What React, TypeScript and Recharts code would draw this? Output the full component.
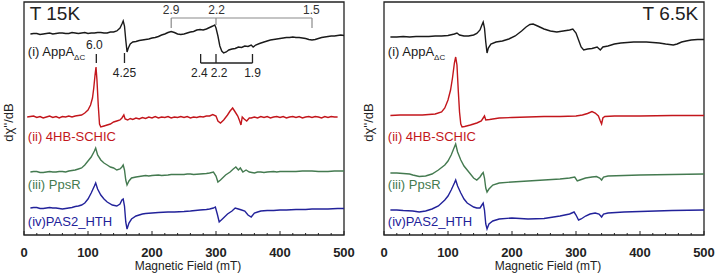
import {
  LineChart,
  Line,
  XAxis,
  YAxis,
  ReferenceArea,
  ReferenceLine,
  ReferenceDot,
} from 'recharts';

const FONT = '"Liberation Sans", Arial, sans-serif';

// x axis ticks (mT)
const fieldTicks = [
  0, 20, 40, 60, 80, 100, 120, 140, 160, 180, 200, 220, 240, 260, 280, 300, 320, 340, 360,
  380, 400, 420, 440, 460, 480, 500,
];
const majorTicks = [0, 100, 200, 300, 400, 500];

const traceNames = ['(i) AppA', '(ii) 4HB-SCHIC', '(iii) PpsR', '(iv)PAS2_HTH'];
const traceColors = ['#1a1a1a', '#c3161c', '#447a50', '#22229a'];

// vertical stacking offsets (a.u.)
const offsets15 = [201, 118, 63, 27];
const offsets65 = [198, 120, 62, 25];

// T 15K spectra, [field mT, dχ''/dB a.u.]
const appA15: [number, number][] = [
  [10, 0], [15, 0.5], [20, 0.5], [25, -0.5], [30, 0], [35, 0.5], [40, 1], [45, 0], [50, 0.5],
  [55, 1], [60, 1], [65, 0.5], [70, 0.5], [75, 1.5], [80, 1], [85, 0.5], [90, 1], [95, 1.5],
  [100, 0.5], [105, 1], [110, 1], [115, 1.5], [120, 1.5], [125, 1], [130, 1], [135, 2], [140, 2],
  [145, 3], [150, 6], [153, 10], [155, 13], [157, 8], [159, -6], [161, -18], [163, -14], [166, -10],
  [170, -8], [175, -7.5], [180, -6.5], [185, -6], [190, -5.5], [195, -5], [200, -4], [205, -3.5],
  [210, -2.5], [215, -1], [220, 0], [225, 1.5], [230, 2.5], [235, 1.5], [240, 0], [245, -0.5],
  [250, 0], [255, 1], [260, 2], [265, 2.5], [270, 4], [275, 4.5], [280, 4], [285, 5], [290, 6.5],
  [295, 8], [298, 9], [300, 6], [303, -2], [306, -12], [309, -17], [312, -19], [316, -18],
  [320, -16], [325, -15], [330, -14.5], [335, -13], [340, -13.5], [345, -12], [350, -12.5],
  [355, -11], [358, -13], [362, -11], [368, -9.5], [375, -8], [380, -7], [385, -6], [390, -5.5],
  [395, -5], [400, -4.5], [405, -4], [410, -3.5], [415, -3.5], [420, -3], [425, -3.5], [430, -3.5],
  [435, -4], [440, -4.5], [445, -5.5], [450, -6], [455, -5.5], [460, -4.5], [465, -3.5], [470, -3],
  [475, -2.5], [480, -2], [485, -2], [490, -1.5], [495, -1], [500, -1.5],
];
const schic15: [number, number][] = [
  [5, 0], [10, 0.5], [15, 1], [20, -0.5], [25, 0.5], [30, -1], [35, 0], [40, 1], [45, -0.5],
  [50, 0.5], [55, -1], [60, 0.5], [65, 0], [70, 1], [75, 0], [80, 1], [85, 1.5], [90, 2], [95, 4],
  [100, 7], [104, 12], [107, 19], [109, 29], [111, 42], [112.5, 50], [114, 37], [116, 12], [118, -7],
  [120, -10], [125, -9], [130, -8], [135, -7], [140, -5], [145, -4], [150, -3], [153, -1], [156, 2],
  [158, -2], [162, -3], [166, -1.5], [170, -2.5], [175, -1], [180, -2], [185, -0.5], [190, -1.5],
  [195, 0], [200, -1], [205, 0.5], [210, -1], [215, 0], [220, -0.5], [225, 0.5], [230, -1],
  [235, 0], [240, -0.5], [245, 0.5], [250, -0.5], [255, 0.5], [260, -1], [265, 0], [270, -0.5],
  [275, 0.5], [280, 0], [285, 1], [290, 1], [295, 2.5], [300, 1], [303, -4], [307, -6], [312, -3],
  [318, 2], [322, 6], [326, 9], [330, 5], [334, 1], [337, -4], [339, -8], [341, 0], [344, -2],
  [348, -4], [352, -1], [355, -1], [360, 0], [365, -1], [370, 0.5], [375, -0.5], [380, 0.5],
  [385, -1], [390, 0], [395, 0.5], [400, -0.5], [405, 0.5], [410, -1], [415, 0], [420, 0.5],
  [425, -0.5], [430, 0.5], [435, -1], [440, 0], [445, 0.5], [450, -0.5], [455, 0.5], [460, 0],
  [465, -1], [470, 0.5], [475, -0.5], [480, 0.5], [485, 0], [490, 0],
];
const ppsR15: [number, number][] = [
  [10, 0], [15, 0.5], [20, 0.5], [25, -0.5], [30, -0.5], [35, 0], [40, 0.5], [45, 0], [50, 0],
  [55, 0.5], [60, 0.5], [65, 0], [70, 1], [75, 1.5], [80, 2], [85, 3], [90, 4], [95, 7], [100, 11],
  [105, 15], [110, 21], [112, 24], [115, 17], [120, 12], [125, 9], [130, 7], [135, 5], [140, 4],
  [145, 2], [150, 3], [153, 5], [155, 7], [157, 2], [159, -8], [161, -13], [164, -9], [168, -6],
  [175, -5], [180, -4.5], [185, -4], [190, -3.5], [195, -4], [200, -3.5], [210, -3], [215, -3.5],
  [225, -3], [230, -2.5], [240, -2.5], [250, -2.5], [255, -2], [260, -2], [265, -2.5], [275, -2],
  [285, -1.5], [290, -1], [296, 0], [300, -4], [303, -10], [307, -8], [315, -3], [322, 0],
  [327, 3], [331, 5], [335, 2], [338, 4], [342, 0], [347, 2], [352, 0], [360, -1], [365, 0],
  [370, 0], [375, -0.5], [380, 0], [390, 0.5], [395, 0], [400, 0.5], [410, 0.5], [425, 0.5],
  [435, 1], [450, 1], [460, 0.5], [475, 0.5], [485, 1], [500, 1],
];
const pas2Hth15: [number, number][] = [
  [10, 0], [15, 0.5], [20, 0.5], [25, -0.5], [30, -0.5], [35, 0], [40, 0.5], [45, 0], [50, 0],
  [55, -0.5], [60, -1], [65, -0.5], [70, 0], [75, 0.5], [80, 1.5], [85, 2], [90, 3], [95, 5],
  [100, 9], [105, 15], [110, 22], [112, 25], [115, 19], [120, 13], [125, 9], [130, 6], [138, 3],
  [145, 2], [150, 4], [153, 8], [155, 9], [157, 2], [159, -14], [161, -21], [164, -15], [168, -11],
  [175, -8], [180, -7], [185, -6], [190, -5.5], [200, -5], [210, -4.5], [225, -4], [235, -4],
  [250, -3.5], [260, -3], [275, -2], [285, -1.5], [290, -1], [296, 0], [299, 1], [302, -6],
  [305, -14], [310, -11], [318, -6], [325, -3], [330, 0], [335, -1], [340, -2], [345, -3],
  [350, -7], [355, -9], [360, -5], [365, -4], [370, -3], [380, -2.5], [390, -2.5], [400, -2],
  [410, -2], [425, -1.5], [440, -1.5], [450, -1], [465, -1], [475, -1], [490, -0.5], [500, -0.5],
];

// T 6.5K spectra
const appA65: [number, number][] = [
  [10, 0], [20, 0], [30, 0.5], [40, 0], [50, 0.5], [60, 0.5], [70, 0.5], [80, 1], [90, 1],
  [100, 1.5], [110, 3], [114, 4], [118, 2], [125, 1], [132, 1], [140, 2], [145, 3.5], [150, 7],
  [153, 12], [155, 15], [157, 9], [159, -5], [161, -16], [163, -11], [167, -7], [175, -5],
  [185, -4], [195, -2], [205, 1], [215, 6], [222, 10], [228, 12.5], [233, 13], [240, 11],
  [250, 8], [260, 6], [270, 5], [280, 6], [290, 7], [295, 8], [300, 4], [304, -3], [308, -10],
  [312, -13], [318, -12], [325, -11.5], [333, -10], [338, -13], [342, -10], [350, -9], [360, -7],
  [370, -6], [380, -5.5], [390, -5], [400, -5], [410, -5], [420, -5.5], [430, -6], [440, -7],
  [452, -8], [458, -7], [465, -5], [472, -4], [480, -3], [490, -2.5], [500, -2.5],
];
const schic65: [number, number][] = [
  [10, -0.5], [25, 0], [40, 0], [60, 0], [70, 0.5], [80, 1], [90, 3], [95, 7], [100, 15],
  [104, 25], [107, 37], [110, 52], [112, 58], [114, 50], [116, 25], [118, 3], [120, -9],
  [122, -12], [126, -11.5], [135, -10], [145, -8], [152, -6], [155, -3], [157, -1], [159, -5],
  [165, -4.5], [180, -3], [200, -2.5], [225, -2], [250, -1.5], [275, -1.5], [300, -1], [310, 0],
  [318, 1.5], [325, 3.5], [330, 2], [335, -1], [338, -6], [340, -9], [342, -3], [345, -1.5],
  [360, -1], [400, -1], [450, -0.5], [500, -0.5],
];
const ppsR65: [number, number][] = [
  [10, 0], [20, 0], [30, -0.5], [40, -1], [45, -2], [55, -3.5], [65, -3], [75, -1], [85, 3],
  [95, 8], [100, 12], [105, 18], [110, 26], [112, 29], [115, 21], [120, 13], [125, 7], [130, 3],
  [140, -5], [145, -7], [150, -4], [153, -1], [155, 0.5], [157, -5], [159, -15], [161, -19],
  [164, -16], [170, -12], [180, -10], [200, -9], [225, -8], [250, -7], [275, -6], [290, -5],
  [298, -4], [302, -8], [306, -7], [315, -5], [325, -4], [332, -3.5], [337, -5], [340, -7],
  [343, -4], [350, -3], [375, -2.5], [400, -2], [450, -1.5], [500, -1],
];
const pas2Hth65: [number, number][] = [
  [10, 0], [20, 0], [30, -0.5], [45, -1], [55, -2], [65, -1], [75, 1], [85, 4], [95, 10],
  [100, 14], [105, 20], [110, 27], [112, 30], [115, 24], [120, 17], [125, 11], [130, 7], [140, 3],
  [145, 2], [150, 2], [153, 5], [155, 7], [157, 0], [159, -14], [161, -19], [164, -14], [170, -11],
  [180, -9], [200, -8], [225, -9], [250, -8.5], [275, -6], [290, -4], [297, -2], [300, -5],
  [304, -10], [308, -9], [315, -6], [322, -4], [330, -3], [336, -4], [340, -7], [343, -4],
  [350, -3], [375, -2], [400, -1.5], [450, -0.5], [500, 0],
];

const spectra15 = [appA15, schic15, ppsR15, pas2Hth15];
const spectra65 = [appA65, schic65, ppsR65, pas2Hth65];

const BottomTick = ({ x, y, payload }: any) => {
  const major = majorTicks.includes(payload.value);
  return (
    <g>
      <line x1={x} x2={x} y1={y} y2={y - (major ? 4 : 2)} stroke="#222" strokeWidth={1} />
      {major && (
        <text
          x={x}
          y={y + 22}
          textAnchor="middle"
          fontFamily={FONT}
          fontWeight={700}
          fontSize={13}
          fill="#222"
        >
          {payload.value}
        </text>
      )}
    </g>
  );
};

const TopTick = ({ x, y }: any) => (
  <line x1={x} x2={x} y1={y} y2={y + 2} stroke="#222" strokeWidth={1} />
);

const YLabel = ({ viewBox }: any) => {
  const cx = viewBox.x + 8;
  const cy = viewBox.y + viewBox.height / 2 + 4;
  return (
    <text
      x={cx}
      y={cy}
      transform={`rotate(-90, ${cx}, ${cy})`}
      textAnchor="middle"
      dominantBaseline="central"
      fontFamily={FONT}
      fontSize={13}
      fill="#222"
    >
      dχ''/dB
    </text>
  );
};

const Note = ({ viewBox, text, sub, color = '#222', size = 12, anchor = 'middle', middle }: any) => (
  <text
    x={viewBox.x}
    y={viewBox.y}
    textAnchor={anchor}
    dominantBaseline={middle ? 'central' : 'alphabetic'}
    fontFamily={FONT}
    fontSize={size}
    fill={color}
  >
    {text}
    {sub && (
      <tspan fontSize={8} dy={4}>
        {sub}
      </tspan>
    )}
  </text>
);

const note = (x: number, y: number, label: any, key: string) => (
  <ReferenceDot key={key} x={x} y={y} r={0} fill="none" stroke="none" label={label} />
);

type PanelProps = {
  width: number;
  title: string;
  titleRight?: boolean;
  spectra: [number, number][][];
  offsets: number[];
  marks?: boolean;
};

const Panel = ({ width, title, titleRight, spectra, offsets, marks }: PanelProps) => {
  const right = width - 24 - 320;
  return (
    <LineChart width={width} height={278} margin={{ top: 2, right, bottom: 0, left: 0 }}>
      <XAxis
        dataKey="f"
        type="number"
        domain={[0, 500]}
        ticks={fieldTicks}
        interval={0}
        height={43}
        axisLine={false}
        tickLine={false}
        tickSize={0}
        tickMargin={0}
        tick={<BottomTick />}
        allowDataOverflow
        label={{
          value: 'Magnetic Field (mT)',
          position: 'insideBottom',
          offset: 8,
          dx: 4,
          fontFamily: FONT,
          fontSize: 12,
          fill: '#222',
        }}
      />
      <XAxis
        xAxisId="top"
        orientation="top"
        dataKey="f"
        type="number"
        domain={[0, 500]}
        ticks={fieldTicks}
        interval={0}
        height={0}
        axisLine={false}
        tickLine={false}
        tickSize={0}
        tickMargin={0}
        tick={<TopTick />}
      />
      <YAxis
        type="number"
        domain={[0, 233]}
        width={24}
        tick={false}
        tickLine={false}
        axisLine={false}
        allowDataOverflow
        label={<YLabel />}
      />
      {spectra.map((pts, i) => (
        <Line
          key={traceNames[i]}
          data={pts.map(([f, s]) => ({ f, v: offsets[i] + s }))}
          dataKey="v"
          type="linear"
          dot={false}
          activeDot={false}
          stroke={traceColors[i]}
          strokeWidth={1.4}
          isAnimationActive={false}
        />
      ))}
      <ReferenceArea
        x1={0}
        x2={500}
        y1={0}
        y2={233}
        fill="none"
        stroke="#222"
        strokeWidth={1.3}
        ifOverflow="visible"
      />
      {note(titleRight ? 491 : 9, 215, <Note text={title} size={19} anchor={titleRight ? 'end' : 'start'} />, 'title')}
      {note(6, 179, <Note text={traceNames[0]} sub="ΔC" size={13} anchor="start" color={traceColors[0]} />, 'n0')}
      {note(6, 94, <Note text={traceNames[1]} size={13} anchor="start" color={traceColors[1]} />, 'n1')}
      {note(6, 46, <Note text={traceNames[2]} size={13} anchor="start" color={traceColors[2]} />, 'n2')}
      {note(6, 9, <Note text={traceNames[3]} size={13} anchor="start" color={traceColors[3]} />, 'n3')}
      {marks && [
        // g-value markers
        <ReferenceLine key="s1" segment={[{ x: 230, y: 217 }, { x: 450, y: 217 }]} stroke="#8a8a8a" strokeWidth={1.2} />,
        <ReferenceLine key="s2" segment={[{ x: 230, y: 217 }, { x: 230, y: 207 }]} stroke="#8a8a8a" strokeWidth={1.2} />,
        <ReferenceLine key="s3" segment={[{ x: 300, y: 217 }, { x: 300, y: 210 }]} stroke="#8a8a8a" strokeWidth={1.2} />,
        <ReferenceLine key="s4" segment={[{ x: 450, y: 217 }, { x: 450, y: 207 }]} stroke="#8a8a8a" strokeWidth={1.2} />,
        <ReferenceLine key="s5" segment={[{ x: 113, y: 181 }, { x: 113, y: 172 }]} stroke="#222" strokeWidth={1.3} />,
        <ReferenceLine key="s6" segment={[{ x: 157, y: 182 }, { x: 157, y: 172 }]} stroke="#222" strokeWidth={1.3} />,
        <ReferenceLine key="s7" segment={[{ x: 276, y: 181 }, { x: 276, y: 172 }]} stroke="#222" strokeWidth={1.3} />,
        <ReferenceLine key="s8" segment={[{ x: 300, y: 181 }, { x: 300, y: 172 }]} stroke="#222" strokeWidth={1.3} />,
        <ReferenceLine key="s9" segment={[{ x: 357, y: 181 }, { x: 357, y: 172 }]} stroke="#222" strokeWidth={1.3} />,
        <ReferenceLine key="s10" segment={[{ x: 276, y: 172 }, { x: 357, y: 172 }]} stroke="#222" strokeWidth={1.3} />,
        note(230, 225, <Note text="2.9" middle color="#333" />, 'g1'),
        note(301, 225, <Note text="2.2" middle color="#333" />, 'g2'),
        note(449, 225, <Note text="1.5" middle color="#333" />, 'g3'),
        note(110, 190, <Note text="6.0" middle />, 'g4'),
        note(157, 162.5, <Note text="4.25" middle />, 'g5'),
        note(274, 162.5, <Note text="2.4" middle />, 'g6'),
        note(305, 162.5, <Note text="2.2" middle />, 'g7'),
        note(357, 162.5, <Note text="1.9" middle />, 'g8'),
      ]}
    </LineChart>
  );
};

export default function App() {
  return (
    <div
      style={{
        position: 'absolute',
        left: 0,
        top: 0,
        width: 718,
        height: 278,
        display: 'flex',
        background: '#fff',
      }}
    >
      <Panel width={360} title="T 15K" spectra={spectra15} offsets={offsets15} marks />
      <Panel width={358} title="T 6.5K" titleRight spectra={spectra65} offsets={offsets65} />
    </div>
  );
}
